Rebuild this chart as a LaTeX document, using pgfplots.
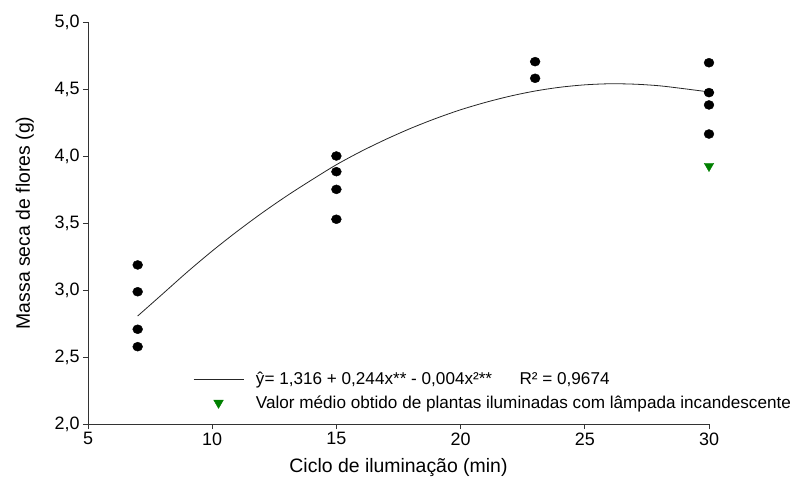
\documentclass[border=0pt]{standalone}
\usepackage{pgfplots}
\pgfplotsset{compat=1.18}
\usepackage{fontspec}
\setmainfont{Liberation Sans}
\definecolor{tri}{RGB}{0,128,0}
\pgfplotsset{
  linelegend/.style={legend image code/.code={\draw[##1] (0bp,0bp) -- (50bp,0bp);}},
  marklegend/.style={legend image code/.code={\draw[##1, mark repeat=2, mark phase=2] plot coordinates {(0bp,0bp) (25bp,0bp) (50bp,0bp)};}},
}
\begin{document}
\begin{tikzpicture}
\useasboundingbox (-88bp,-64bp) rectangle (706bp,424bp);
\begin{axis}[
  at={(0,0)}, anchor=south west,
  scale only axis, width=621bp, height=402bp,
  xmin=5, xmax=30, ymin=2, ymax=5,
  axis x line*=bottom, axis y line*=left,
  axis line style={black!80, line width=0.8bp},
  tick style={black!80, line width=0.8bp},
  tick align=outside, major tick length=5bp,
  xtick={5,10,15,20,25,30},
  ytick={2,2.5,3,3.5,4,4.5,5},
  /pgf/number format/assume math mode=true,
  yticklabel style={/pgf/number format/.cd, fixed, fixed zerofill, precision=1, use comma},
  ticklabel style={font=\fontsize{18}{21}\selectfont},
  xlabel={Ciclo de iluminação (min)},
  ylabel={Massa seca de flores (g)},
  label style={font=\fontsize{19.5}{22}\selectfont},
  xlabel style={at={(axis description cs:0.5,0)}, anchor=center, yshift=-44bp},
  ylabel style={at={(axis description cs:-0.1015,0.5)}, anchor=center},
  legend style={draw=none, fill=none, at={(axis description cs:0.169,0.135)}, anchor=north west,
    font=\fontsize{17.2}{20}\selectfont, row sep=6bp, inner sep=0pt},
  legend cell align=left,
  clip=false,
]
\addplot[only marks, mark=*, mark size=4.5bp, mark options={xscale=1.1, fill=black, draw=black}, forget plot]
  coordinates {
  (7,3.187) (7,2.987) (7,2.707) (7,2.577)
  (15,4.000) (15,3.883) (15,3.751) (15,3.528)
  (23,4.704) (23,4.580)
  (30,4.696) (30,4.473) (30,4.381) (30,4.164)
  };
\addplot[black!85, line width=0.8bp, smooth, linelegend]
  coordinates {
  (7,2.806) (8,2.970) (9,3.135) (10,3.291) (11,3.437) (12,3.574) (13,3.702) (14,3.821)
  (15,3.935) (16,4.035) (17,4.125) (18,4.207) (19,4.280) (20,4.345) (21,4.400) (22,4.447)
  (23,4.485) (24,4.513) (25,4.531) (26,4.539) (27,4.536) (28,4.524) (29,4.502) (30,4.478)
  };
\addlegendentry{\hspace{10bp}ŷ= 1,316 + 0,244x** - 0,004x²**\hspace{1.6em}R² = 0,9674}
\addplot[only marks, mark=triangle*, mark size=5.5bp, mark options={rotate=180, fill=tri, draw=tri}, marklegend]
  coordinates {(30,3.925)};
\addlegendentry{\hspace{10bp}Valor médio obtido de plantas iluminadas com lâmpada incandescente}
\end{axis}
\end{tikzpicture}
\end{document}
